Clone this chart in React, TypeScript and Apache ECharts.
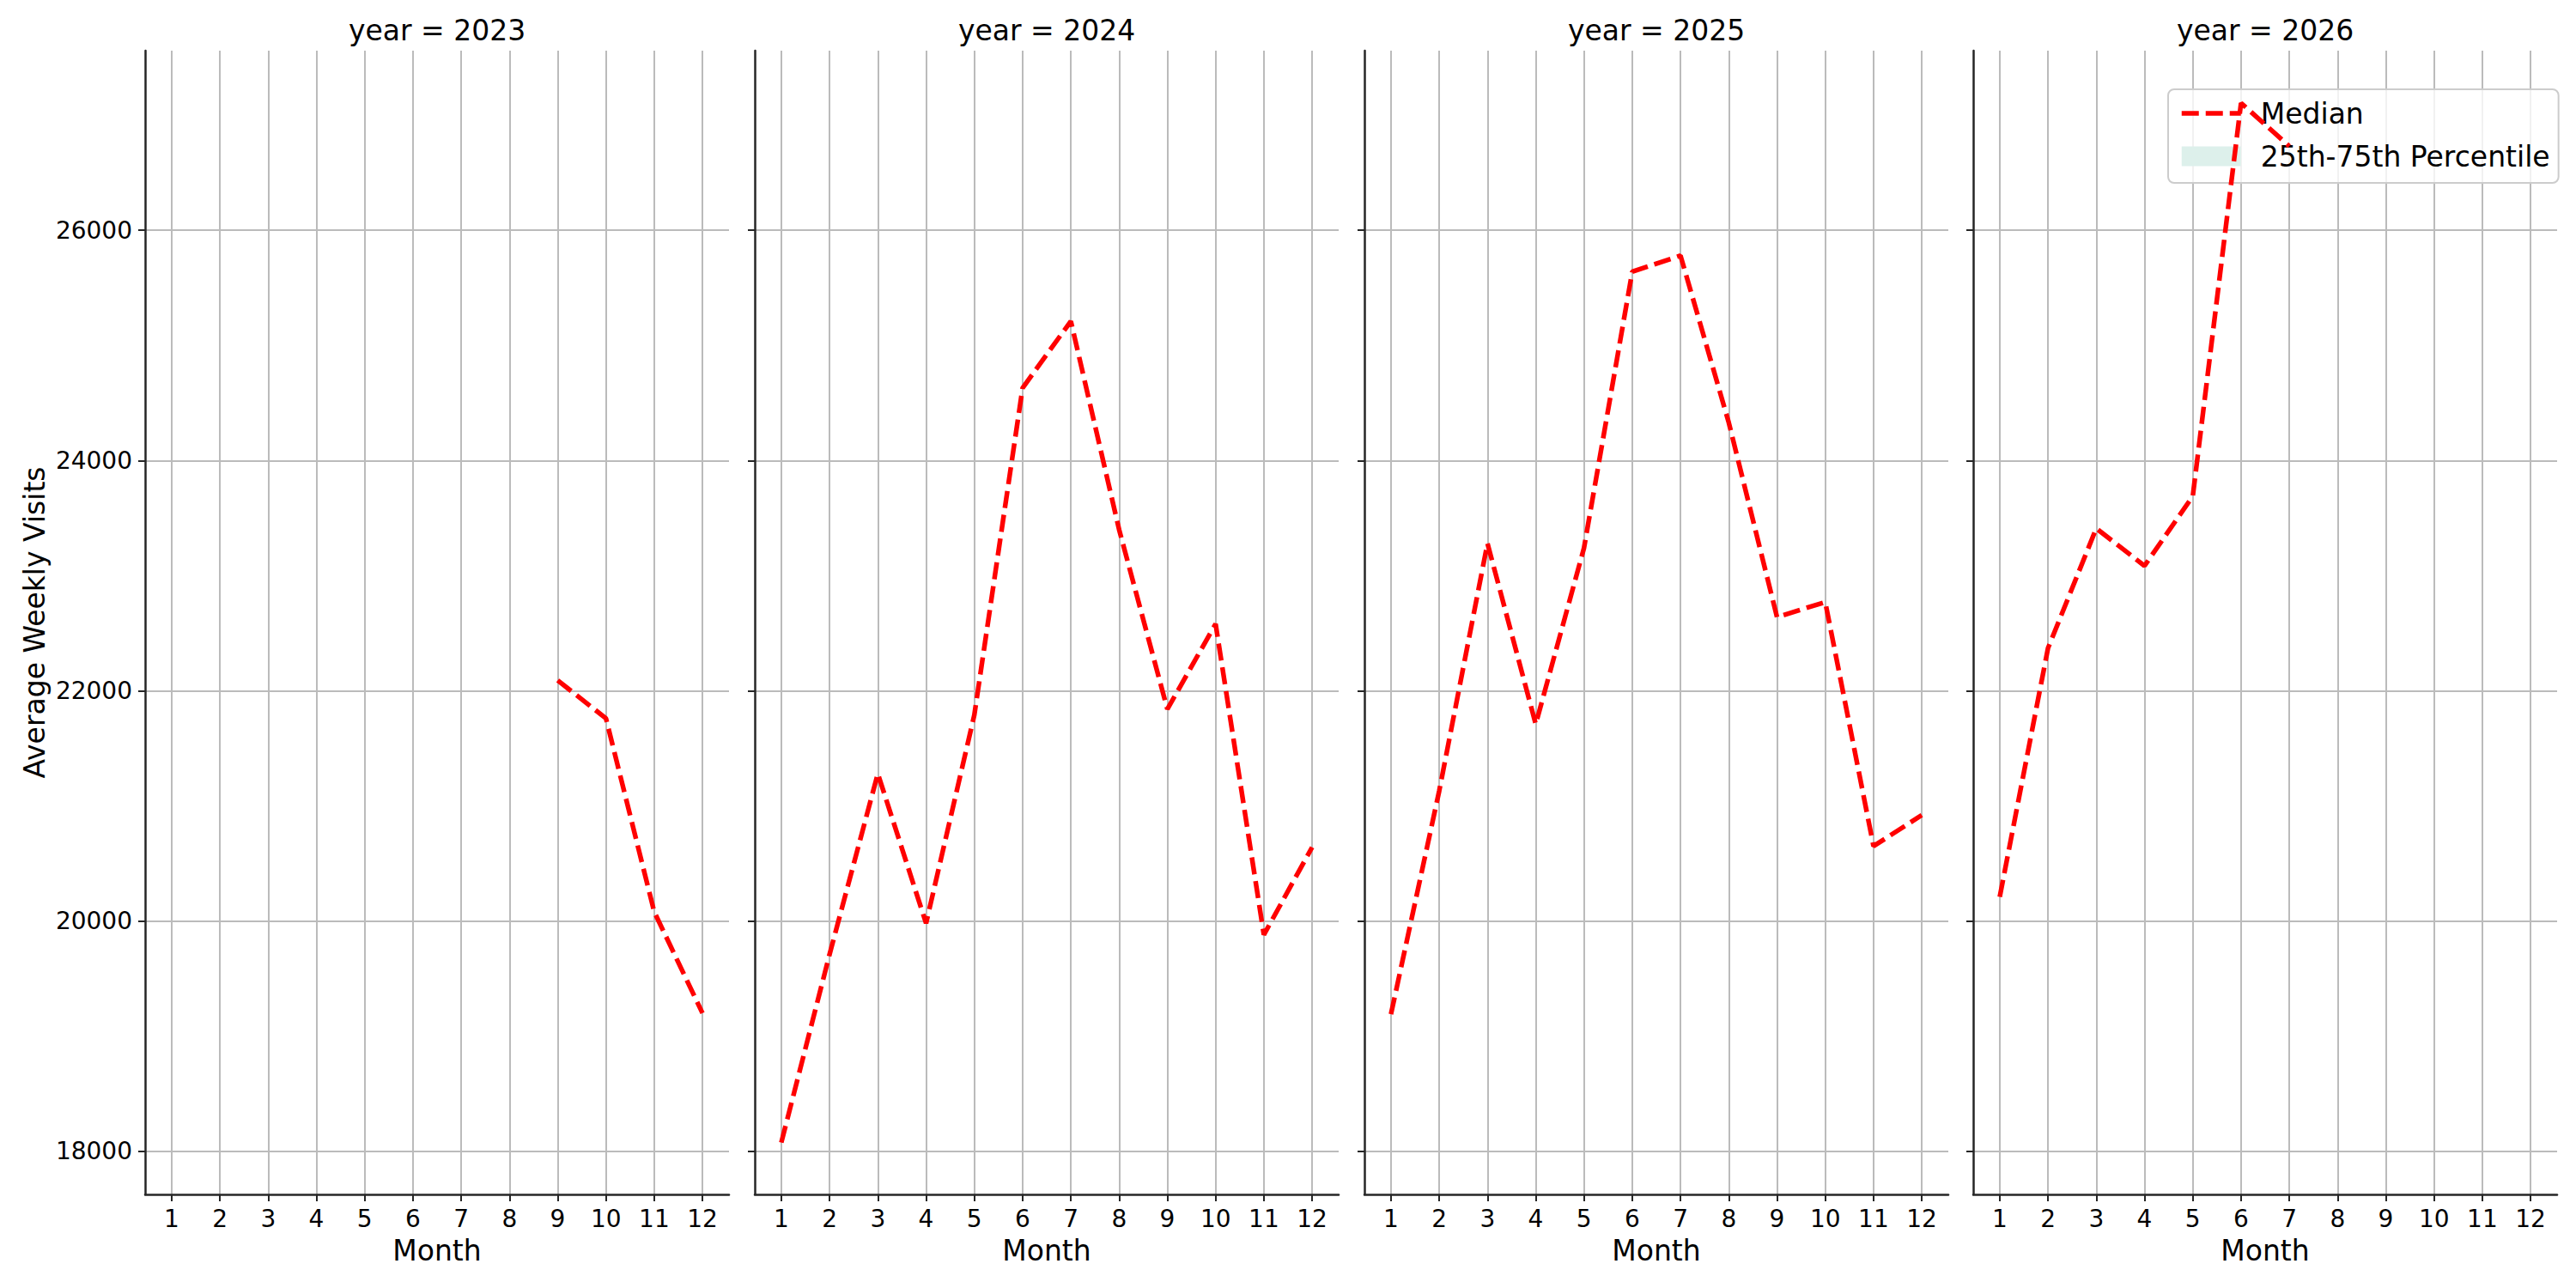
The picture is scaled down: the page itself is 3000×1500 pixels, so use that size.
import React, { useEffect, useRef } from "react";
import * as echarts from "echarts";

const years = [2023, 2024, 2025, 2026];
const months = [1, 2, 3, 4, 5, 6, 7, 8, 9, 10, 11, 12];
const median2023 = [null, null, null, null, null, null, null, null, 22090, 21760, 20080, 19200];
const median2024 = [18075, 19710, 21280, 19980, 21790, 24630, 25210, 23400, 21840, 22580, 19880, 20640];
const median2025 = [19190, 21130, 23280, 21710, 23240, 25640, 25780, 24330, 22640, 22770, 20650, 20920];
const median2026 = [20210, 22370, 23410, 23085, 23690, 27105, 26730, null, null, null, null, null];
const yTicks = [18000, 20000, 22000, 24000, 26000];
const medians = [median2023, median2024, median2025, median2026];

const FONT = "DejaVu Sans";
const PANEL_LEFT = [169, 879, 1589, 2298];
const PANEL_W = 680;
const PANEL_TOP = 59;
const PANEL_H = 1332;
const AXIS_COLOR = "#262626";
const GRID_COLOR = "#bbbbbb";
const RED = "#ff0000";
const DASH = [20, 8];

export default function App() {
  const ref = useRef<HTMLDivElement>(null);
  useEffect(() => {
    if (!ref.current) return;
    const chart = echarts.init(ref.current, null, { renderer: "svg" });
    const grids = PANEL_LEFT.map((l) => ({
      left: l,
      top: PANEL_TOP,
      width: PANEL_W,
      height: PANEL_H,
      containLabel: false,
      outerBoundsMode: "none",
    }));
    const xAxes = years.map((_, i) => ({
      type: "value",
      gridIndex: i,
      min: 0.45,
      max: 12.55,
      name: "Month",
      nameLocation: "middle",
      nameGap: 49,
      nameTextStyle: { fontSize: 33, fontFamily: FONT, color: "#000" },
      axisLine: { show: true, onZero: false, lineStyle: { color: AXIS_COLOR, width: 2.5 } },
      axisTick: { show: true, length: 8, customValues: months, lineStyle: { color: AXIS_COLOR, width: 2 } },
      axisLabel: {
        show: true,
        customValues: months,
        margin: 14,
        fontSize: 28,
        fontFamily: FONT,
        color: "#000",
        formatter: (v: number) => String(v),
      },
      splitLine: { show: true, lineStyle: { color: GRID_COLOR, width: 2 } },
    }));
    const yAxes = years.map((_, i) => ({
      type: "value",
      gridIndex: i,
      min: 17625,
      max: 27560,
      name: i === 0 ? "Average Weekly Visits" : "",
      nameLocation: "middle",
      nameRotate: 90,
      nameGap: 112,
      nameTextStyle: { fontSize: 33, fontFamily: FONT, color: "#000" },
      axisLine: { show: true, lineStyle: { color: AXIS_COLOR, width: 2.5 } },
      axisTick: { show: true, length: 8, customValues: yTicks, lineStyle: { color: AXIS_COLOR, width: 2 } },
      axisLabel: {
        show: i === 0,
        customValues: yTicks,
        margin: 15,
        fontSize: 28,
        fontFamily: FONT,
        color: "#000",
        formatter: (v: number) => String(v),
      },
      splitLine: { show: true, lineStyle: { color: GRID_COLOR, width: 2 } },
    }));
    const titles = years.map((y, i) => ({
      text: `year = ${y}`,
      left: PANEL_LEFT[i] + PANEL_W / 2,
      top: 19,
      textAlign: "center",
      padding: 0,
      textStyle: { fontSize: 33, fontWeight: "normal", fontFamily: FONT, color: "#000" },
    }));
    const lineSeries = years.map((_, i) => ({
      type: "line",
      name: "Median",
      xAxisIndex: i,
      yAxisIndex: i,
      z: 5,
      symbol: "none",
      showSymbol: false,
      silent: true,
      data: months
        .map((m, j) => [m, medians[i][j]])
        .filter((p) => p[1] !== null),
      lineStyle: { color: RED, width: 5.5, type: DASH },
      itemStyle: { color: RED },
    }));
    const bandSeries = {
      type: "line",
      name: "25th-75th Percentile",
      xAxisIndex: 3,
      yAxisIndex: 3,
      data: [],
      symbol: "none",
      lineStyle: { width: 0 },
      itemStyle: { color: "#ddf0eb" },
      areaStyle: { color: "#ddf0eb" },
    };
    chart.setOption({
      animation: false,
      backgroundColor: "#ffffff",
      title: titles,
      grid: grids,
      xAxis: xAxes,
      yAxis: yAxes,
      legend: {
        orient: "vertical",
        left: 2525,
        top: 104,
        z: 1,
        padding: [10, 10, 13, 13],
        itemGap: 14,
        itemWidth: 69,
        itemHeight: 23,
        selectedMode: false,
        backgroundColor: "rgba(255,255,255,0.8)",
        borderColor: "#cccccc",
        borderWidth: 2,
        borderRadius: 7,
        textStyle: {
          fontSize: 33,
          lineHeight: 36,
          fontFamily: FONT,
          color: "#000",
          padding: [0, 0, 0, 18],
        },
        data: [
          {
            name: "Median",
            itemStyle: { opacity: 0 },
            lineStyle: { color: RED, width: 5.5, type: DASH, opacity: 1 },
          },
          { name: "25th-75th Percentile", icon: "rect", itemStyle: { color: "#ddf0eb" } },
        ],
      },
      series: [...lineSeries, bandSeries],
    });
    return () => chart.dispose();
  }, []);
  return (
    <div
      ref={ref}
      style={{ position: "absolute", left: 0, top: 0, width: 3000, height: 1500, background: "#fff" }}
    />
  );
}
